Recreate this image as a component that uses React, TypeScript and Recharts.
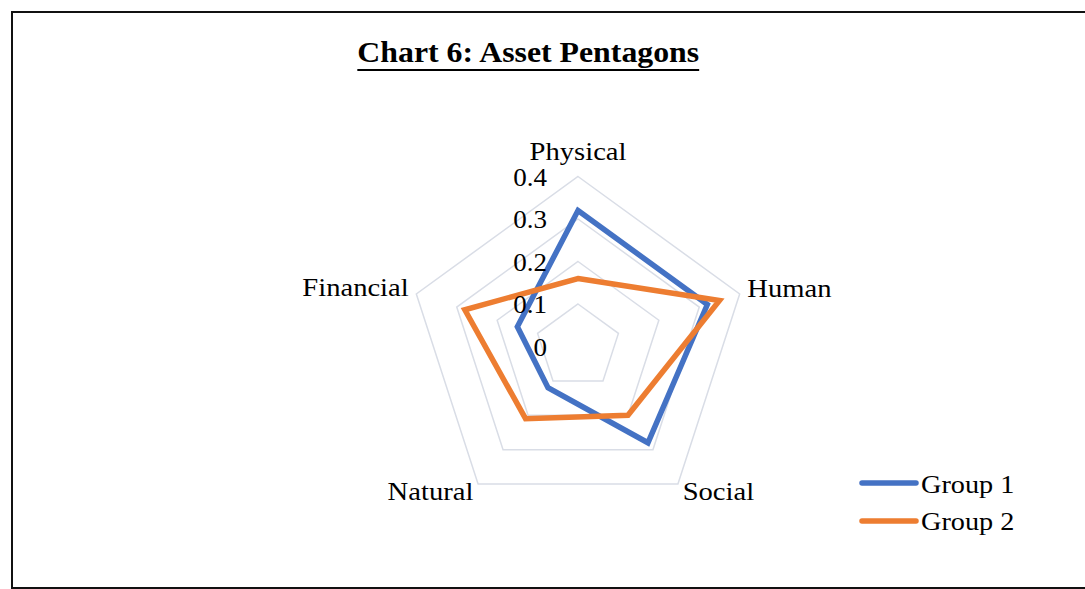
import { RadarChart, Radar, PolarGrid, PolarAngleAxis, PolarRadiusAxis, Legend } from 'recharts'

const CATEGORIES = ['Physical', 'Human', 'Social', 'Natural', 'Financial']
const GROUP_1 = [0.32, 0.32, 0.28, 0.12, 0.15]
const GROUP_2 = [0.16, 0.35, 0.2, 0.21, 0.28]
const RADIUS_DOMAIN = [0, 0.4]
const SERIES = [
  { key: 'g1', name: 'Group 1', color: '#4472C4' },
  { key: 'g2', name: 'Group 2', color: '#ED7D31' },
]

const FONT = '"Liberation Serif", "Times New Roman", serif'

const data = CATEGORIES.map((c, i) => ({ axis: c, g1: GROUP_1[i], g2: GROUP_2[i] }))

// label anchors and vertical nudges per category (top, right, bottom-right, bottom-left, left)
const ANCHORS = ['middle', 'start', 'start', 'end', 'end']
const DYS = [-9, 6, 9, 9, 5]

function AngleTick(props: any) {
  const { x, y, payload, index } = props
  return (
    <text
      transform={`translate(${x},${y + DYS[index]}) scale(1.1,1)`}
      textAnchor={ANCHORS[index]}
      fontFamily={FONT}
      fontSize={26}
      fill="#000"
    >
      {payload.value}
    </text>
  )
}

function RadiusTick(props: any) {
  const { x, y, payload } = props
  const label = String(Number(Number(payload.value).toFixed(1)))
  return (
    <text
      transform={`translate(${x - 31},${y + 9}) scale(1.04,1)`}
      textAnchor="end"
      fontFamily={FONT}
      fontSize={26}
      fill="#000"
    >
      {label}
    </text>
  )
}

function LegendBox(props: any) {
  const items = props.payload || []
  return (
    <svg width={170} height={80}>
      {items.map((it: any, i: number) => (
        <g key={i}>
          <line x1={7} x2={61} y1={13 + i * 38} y2={13 + i * 38} stroke={it.color} strokeWidth={5.5} strokeLinecap="round" />
          <text
            transform={`translate(66,${23 + i * 37}) scale(1.13,1)`}
            fontFamily={FONT}
            fontSize={25}
            fill="#000"
          >
            {it.value}
          </text>
        </g>
      ))}
    </svg>
  )
}

export default function App() {
  return (
    <div style={{ position: 'absolute', left: 0, top: 0, width: 1085, height: 589, overflow: 'hidden', background: '#fff' }}>
      <div
        style={{
          position: 'absolute', left: 11, top: 11, width: 1074, height: 574,
          borderLeft: '2px solid #111', borderTop: '2px solid #111', borderBottom: '2px solid #111',
        }}
      />
      <div
        style={{
          position: 'absolute', left: 0, top: 36.5, width: 1056, textAlign: 'center',
          fontFamily: FONT, fontSize: 30, lineHeight: '30px', fontWeight: 'bold', zIndex: 2,
        }}
      >
        <span
          style={{
            display: 'inline-block', transform: 'scaleX(1.06)', textDecoration: 'underline',
            textUnderlineOffset: '7px', textDecorationThickness: '2px',
          }}
        >
          Chart 6: Asset Pentagons
        </span>
      </div>
      <div style={{ position: 'absolute', left: 0, top: 0 }}>
        <RadarChart
          width={1085}
          height={589}
          data={data}
          cx={578}
          cy={346.5}
          outerRadius={170}
          margin={{ top: 0, right: 0, bottom: 0, left: 0 }}
        >
          <PolarGrid gridType="polygon" radialLines={false} stroke="#d9dde6" strokeWidth={1.5} />
          <PolarAngleAxis dataKey="axis" tick={<AngleTick />} tickLine={false} axisLine={false} />
          <PolarRadiusAxis
            angle={90}
            type="number"
            domain={RADIUS_DOMAIN}
            tickCount={5}
            allowDecimals
            axisLine={false}
            tickLine={false}
            tick={<RadiusTick />}
          />
          {SERIES.map(s => (
            <Radar
              key={s.key}
              name={s.name}
              dataKey={s.key}
              stroke={s.color}
              strokeWidth={5.5}
              fill="none"
              fillOpacity={0}
              dot={false}
              isAnimationActive={false}
            />
          ))}
          <Legend
            layout="vertical"
            align="center"
            verticalAlign="middle"
            content={<LegendBox />}
            wrapperStyle={{ left: 855, top: 470, width: 170, height: 80 }}
          />
        </RadarChart>
      </div>
    </div>
  )
}
